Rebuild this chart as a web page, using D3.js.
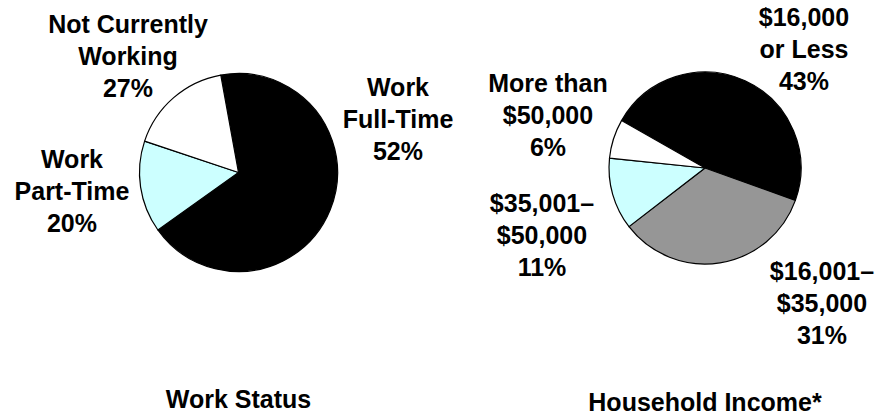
<!DOCTYPE html>
<html>
<head>
<meta charset="utf-8">
<script src="https://cdn.jsdelivr.net/npm/d3@7"></script>
<style>
  body { margin: 0; background: #fff; }
  svg { display: block; }
  text { font-family: "Liberation Sans", Arial, sans-serif; font-weight: bold; font-size: 25px; fill: #000; }
</style>
</head>
<body>
<div id="chart"></div>
<script>
// Work status pie. The slice sizes are read from the drawn pie,
// which does not follow the printed percentages in the source chart.
var workCategories = [["Work", "Full-Time"], ["Work", "Part-Time"], ["Not Currently", "Working"]];
var workShares = [68, 15, 17];
var workPercents = ["52%", "20%", "27%"];
var workColors = ["#000000", "#ccffff", "#ffffff"];

// Household income pie
var incomeCategories = [["$16,000", "or Less"], ["$16,001\u2013", "$35,000"], ["$35,001\u2013", "$50,000"], ["More than", "$50,000"]];
var incomeValues = [43, 31, 11, 6];
var incomeColors = ["#000000", "#969696", "#ccffff", "#ffffff"];

var width = 888, height = 418;
var lineGap = 32;

var svg = d3.select('#chart').append('svg')
    .attr('width', width)
    .attr('height', height);

function drawPie(opts) {
  var pie = d3.pie().sort(null)
      .startAngle(opts.start)
      .endAngle(opts.start + 2 * Math.PI);
  var arc = d3.arc().innerRadius(0).outerRadius(opts.r);

  var g = svg.append('g')
      .attr('transform', 'translate(' + opts.cx + ',' + opts.cy + ')');

  g.selectAll('path')
      .data(pie(opts.values))
      .enter().append('path')
      .attr('d', arc)
      .attr('fill', function(d, i) { return opts.colors[i]; })
      .attr('stroke', '#000')
      .attr('stroke-width', 1.2)
      .attr('stroke-linejoin', 'round');

  // labels: two category lines plus the percentage
  opts.labels.forEach(function(lines, i) {
    var t = svg.append('text')
        .attr('text-anchor', 'middle')
        .attr('x', opts.labelPos[i][0])
        .attr('y', opts.labelPos[i][1]);
    lines.concat([opts.percents[i]]).forEach(function(s, k) {
      t.append('tspan')
          .attr('x', opts.labelPos[i][0])
          .attr('dy', k === 0 ? 0 : lineGap)
          .text(s);
    });
  });

  svg.append('text')
      .attr('text-anchor', 'middle')
      .attr('x', opts.cx)
      .attr('y', opts.titleY)
      .text(opts.title);
}

drawPie({
  cx: 238.5, cy: 172.5, r: 99,
  start: -10.3 * Math.PI / 180,
  values: workShares,
  colors: workColors,
  labels: workCategories,
  percents: workPercents,
  labelPos: [[398, 96], [72, 168], [128, 33]],
  title: 'Work Status',
  titleY: 408
});

drawPie({
  cx: 705, cy: 168, r: 96,
  start: -60.4 * Math.PI / 180,
  values: incomeValues,
  colors: incomeColors,
  labels: incomeCategories,
  percents: incomeValues.map(function(v) { return v + '%'; }),
  labelPos: [[804, 26], [822, 280], [542, 212], [548, 92]],
  title: 'Household Income*',
  titleY: 411
});
</script>
</body>
</html>
